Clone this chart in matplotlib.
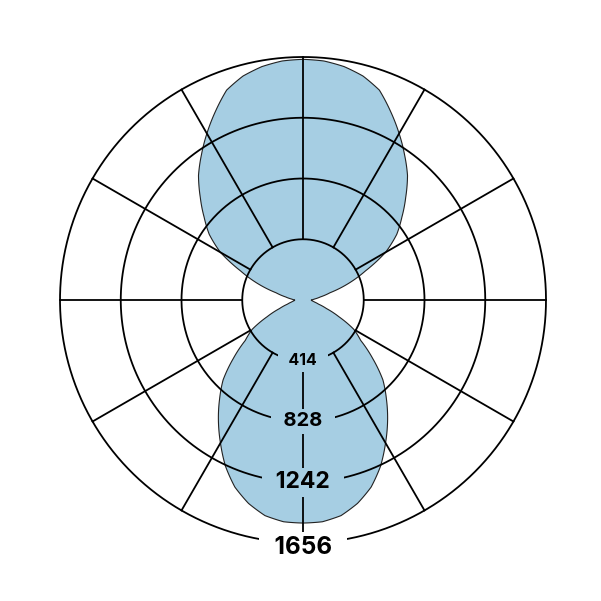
import numpy as np
import matplotlib.pyplot as plt

# luminous intensity (cd) vs angle from nadir, one half-plane (symmetric)
angles = [0, 5, 10, 15, 20, 25, 30, 35, 40, 45, 50, 55, 60, 65, 70, 75, 80, 85,
          90, 95, 100, 105, 110, 115, 120, 125, 130, 135, 140, 145, 150, 155,
          160, 165, 170, 175, 180]
intensity = [1520, 1517, 1492, 1435, 1357, 1250, 1125, 1005, 885, 770, 620, 480,
             400, 270, 170, 110, 80, 62, 55, 80, 120, 190, 330, 470, 650, 780,
             880, 990, 1108, 1207, 1310, 1415, 1522, 1580, 1615, 1635, 1640]

rings = [414, 828, 1242, 1656]
ring_labels = ["414", "828", "1242", "1656"]
label_sizes = [11.5, 14.5, 16.5, 17.5]
label_shift = [0, 0, 0, -3]   # points
spokes = np.arange(0, 360, 30)

fill_col = "#a6cee3"

fig = plt.figure(figsize=(6.01, 6.01), dpi=100)
ax = fig.add_axes([60 / 601, 58 / 601, 486 / 601, 486 / 601], projection="polar")
ax.set_theta_zero_location("S")
ax.set_rlim(0, rings[-1])
ax.grid(False)
ax.set_xticks([])
ax.set_yticks([])
ax.spines["polar"].set_visible(False)

a = np.deg2rad(angles)
th = np.concatenate([a, 2 * np.pi - a[::-1]])
rr = np.concatenate([intensity, intensity[::-1]])
poly = ax.fill(th, rr, facecolor=fill_col, edgecolor="#222222", lw=0.8, zorder=1)[0]
# let the polar transform bend each segment instead of drawing straight chords
poly.get_path()._interpolation_steps = 30

circ = np.linspace(0, 2 * np.pi, 400)
for r in rings:
    ax.plot(circ, np.full_like(circ, r), color="black", lw=1.3, zorder=2, clip_on=False)
for s in spokes:
    t = np.deg2rad(s)
    ax.plot([t, t], [rings[0], rings[-1]], color="black", lw=1.3, zorder=2, clip_on=False)

for i, (r, lab) in enumerate(zip(rings, ring_labels)):
    bg = "white" if i == len(rings) - 1 else fill_col
    ax.annotate("  " + lab + "  ", (0, r), xytext=(0, label_shift[i]), textcoords="offset points",
                ha="center", va="center", fontsize=label_sizes[i],
                fontweight="bold", family=["Inter", "DejaVu Sans"], zorder=3,
                bbox=dict(facecolor=bg, edgecolor="none", pad=2.5))

fig.savefig("out.png", dpi=100)
